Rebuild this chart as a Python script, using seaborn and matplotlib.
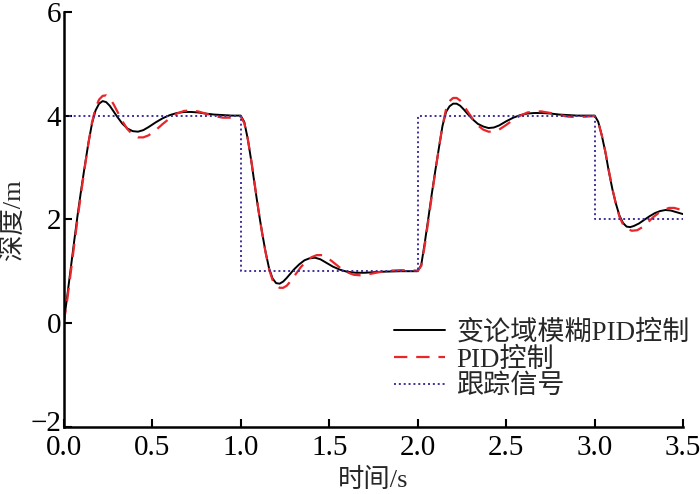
import matplotlib
matplotlib.use("Agg")
import matplotlib.pyplot as plt
import matplotlib.transforms as mtransforms
import seaborn as sns

# time (s) and depth (m)
t_fuzzy = [0.00, 0.02, 0.04, 0.06, 0.08, 0.10, 0.12, 0.14, 0.16, 0.18, 0.20, 0.22, 0.24, 0.26, 0.28,
           0.30, 0.33, 0.36, 0.39, 0.42, 0.45, 0.48, 0.52, 0.56, 0.60, 0.64, 0.68, 0.72, 0.76, 0.80,
           0.85, 0.90, 0.95, 1.00,
           1.02, 1.04, 1.06, 1.08, 1.10, 1.12, 1.14, 1.16, 1.18, 1.20, 1.22, 1.24, 1.26, 1.28, 1.30,
           1.33, 1.36, 1.39, 1.42, 1.45, 1.48, 1.52, 1.56, 1.60, 1.65, 1.70, 1.75, 1.80, 1.90, 2.00,
           2.02, 2.04, 2.06, 2.08, 2.10, 2.12, 2.14, 2.16, 2.18, 2.20, 2.22, 2.24, 2.26, 2.28, 2.31,
           2.34, 2.37, 2.40, 2.43, 2.46, 2.50, 2.54, 2.58, 2.62, 2.66, 2.70, 2.75, 2.80, 2.85, 2.90,
           3.00,
           3.02, 3.04, 3.06, 3.08, 3.10, 3.12, 3.14, 3.16, 3.18, 3.20, 3.22, 3.25, 3.28, 3.31, 3.34,
           3.37, 3.40, 3.43, 3.46, 3.50]
y_fuzzy = [0.00, 0.52, 1.06, 1.60, 2.12, 2.60, 3.05, 3.48, 3.85, 4.10, 4.23, 4.28, 4.26, 4.19, 4.09,
           3.99, 3.85, 3.75, 3.70, 3.69, 3.72, 3.78, 3.87, 3.95, 4.01, 4.05, 4.07, 4.07, 4.06, 4.04,
           4.02, 4.01, 4.00, 4.00,
           3.88, 3.55, 3.12, 2.64, 2.18, 1.76, 1.38, 1.06, 0.86, 0.77, 0.76, 0.80, 0.87, 0.95, 1.03,
           1.13, 1.21, 1.25, 1.26, 1.23, 1.17, 1.09, 1.03, 0.99, 0.97, 0.97, 0.98, 0.99, 1.00, 1.00,
           1.12, 1.55, 2.02, 2.50, 2.95, 3.38, 3.80, 4.07, 4.18, 4.23, 4.23, 4.19, 4.12, 4.04, 3.93,
           3.84, 3.79, 3.76, 3.77, 3.81, 3.89, 3.96, 4.01, 4.04, 4.05, 4.05, 4.04, 4.02, 4.01, 4.00,
           4.00,
           3.88, 3.62, 3.30, 2.92, 2.58, 2.30, 2.07, 1.93, 1.86, 1.85, 1.87, 1.92, 1.99, 2.06, 2.12,
           2.16, 2.18, 2.17, 2.14, 2.10]

t_pid = [0.00, 0.02, 0.04, 0.06, 0.08, 0.10, 0.12, 0.14, 0.16, 0.18, 0.20, 0.22, 0.24, 0.26, 0.28,
         0.30, 0.33, 0.36, 0.39, 0.42, 0.45, 0.48, 0.52, 0.56, 0.60, 0.64, 0.68, 0.72, 0.76, 0.80,
         0.85, 0.90, 0.95, 1.00,
         1.02, 1.04, 1.06, 1.08, 1.10, 1.12, 1.14, 1.16, 1.18, 1.20, 1.22, 1.24, 1.26, 1.28, 1.31,
         1.34, 1.37, 1.40, 1.43, 1.46, 1.49, 1.52, 1.56, 1.60, 1.64, 1.68, 1.72, 1.78, 1.84, 1.90,
         1.95, 2.00,
         2.02, 2.04, 2.06, 2.08, 2.10, 2.12, 2.14, 2.16, 2.18, 2.20, 2.22, 2.24, 2.26, 2.28, 2.31,
         2.34, 2.37, 2.40, 2.43, 2.46, 2.50, 2.54, 2.58, 2.62, 2.66, 2.70, 2.75, 2.80, 2.85, 2.90,
         2.95, 3.00,
         3.02, 3.04, 3.06, 3.08, 3.10, 3.12, 3.14, 3.16, 3.18, 3.21, 3.24, 3.27, 3.30, 3.33, 3.36,
         3.39, 3.42, 3.45, 3.48, 3.50]
y_pid = [0.00, 0.45, 0.98, 1.52, 2.05, 2.55, 3.02, 3.47, 3.87, 4.15, 4.31, 4.38, 4.39, 4.33, 4.23,
         4.10, 3.90, 3.74, 3.63, 3.58, 3.58, 3.62, 3.72, 3.84, 3.95, 4.04, 4.09, 4.10, 4.08, 4.04,
         3.99, 3.96, 3.96, 3.98,
         3.86, 3.55, 3.13, 2.66, 2.19, 1.76, 1.37, 1.04, 0.83, 0.72, 0.68, 0.68, 0.72, 0.80, 0.94,
         1.08, 1.19, 1.27, 1.31, 1.31, 1.26, 1.18, 1.07, 0.98, 0.93, 0.92, 0.94, 0.98, 1.01, 1.02,
         1.02, 1.01,
         1.10, 1.50, 1.97, 2.46, 2.93, 3.38, 3.80, 4.12, 4.28, 4.34, 4.34, 4.29, 4.20, 4.09, 3.94,
         3.81, 3.73, 3.69, 3.69, 3.73, 3.82, 3.92, 4.00, 4.06, 4.08, 4.08, 4.05, 4.01, 3.98, 3.97,
         3.98, 3.99,
         3.87, 3.62, 3.31, 2.94, 2.59, 2.29, 2.05, 1.90, 1.82, 1.78, 1.79, 1.85, 1.94, 2.04, 2.12,
         2.18, 2.22, 2.22, 2.19, 2.17]

t_ref = [0.0, 1.0, 2.0, 3.0, 3.5]
y_ref = [4.0, 1.0, 4.0, 2.0, 2.0]

labels = ["变论域模糊PID控制", "PID控制", "跟踪信号"]
xticks = [0.0, 0.5, 1.0, 1.5, 2.0, 2.5, 3.0, 3.5]
yticks = [-2, 0, 2, 4, 6]

sns.set_style("ticks")
plt.rcParams['font.family'] = ['Liberation Serif', 'Noto Sans CJK SC']
plt.rcParams['xtick.direction'] = 'in'
plt.rcParams['ytick.direction'] = 'in'

fig = plt.figure(figsize=(7, 4.94), dpi=100)
ax = fig.add_axes([0.091, 0.136, 0.885, 0.840])

sns.lineplot(x=t_fuzzy, y=y_fuzzy, ax=ax, color='black', linewidth=1.4, label=labels[0])
sns.lineplot(x=t_pid, y=y_pid, ax=ax, color='#e8262b', linewidth=1.6,
             linestyle=(0, (6, 4)), label=labels[1])
sns.lineplot(x=t_ref, y=y_ref, ax=ax, color='#3f2f9a', linewidth=1.4,
             linestyle=(0, (1, 1.5)), drawstyle='steps-post', label=labels[2])

ax.set_xlim(0, 3.5)
ax.set_ylim(-2, 6)
ax.set_xticks(xticks)
ax.set_xticklabels([f"{v:.1f}" for v in xticks])
ax.set_yticks(yticks)
ax.set_yticklabels([f"{v:d}".replace("-", "\u2212") for v in yticks])
ax.tick_params(axis='both', labelsize=21, length=6, width=1.5, colors='black')
ax.tick_params(axis='x', pad=6)
ax.tick_params(axis='y', pad=2)
for s in ['left', 'bottom']:
    ax.spines[s].set_linewidth(1.8)
    ax.spines[s].set_color('black')
sns.despine(ax=ax)

# the -2 label sits a little higher in the original, clear of "0.0"
lbl = ax.get_yticklabels()[0]
lbl.set_transform(lbl.get_transform() + mtransforms.ScaledTranslation(0, 4 / 72, fig.dpi_scale_trans))

ax.set_xlabel("时间/s", fontsize=19, labelpad=5)
ax.set_ylabel("深度/m", fontsize=19, labelpad=4)

ax.legend(loc='upper left', bbox_to_anchor=(0.533, 0.257), frameon=False, fontsize=19.5,
          handlelength=1.9, handletextpad=0.4, labelspacing=0.06, borderpad=0, borderaxespad=0)

fig.savefig("out.png", dpi=100)
